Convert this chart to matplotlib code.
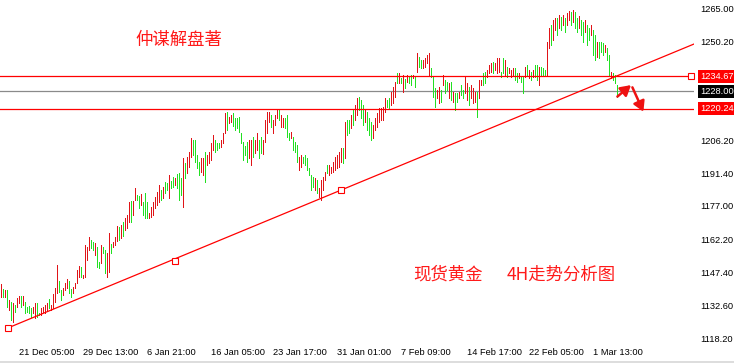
import matplotlib
matplotlib.use("Agg")
import matplotlib.pyplot as plt
from matplotlib.patches import Rectangle

# ---------------- data (4H bars, gold) ----------------
highs = [
 1142.2,1140.0,1139.6,1139.6,1135.1,1134.2,1133.8,1132.9,1136.0,1136.9,
 1136.9,1136.9,1134.2,1132.0,1132.5,1131.6,1132.0,1133.8,1133.8,1129.3,
 1131.6,1132.0,1132.9,1133.8,1135.6,1132.9,1137.8,1140.5,1150.7,1143.6,
 1139.6,1140.5,1142.7,1144.5,1143.6,1140.0,1140.9,1142.7,1148.5,1150.3,
 1149.8,1146.2,1159.6,1158.7,1163.1,1161.8,1160.9,1160.5,1158.7,1152.0,
 1159.6,1158.7,1157.4,1156.0,1164.9,1160.0,1160.9,1163.1,1168.0,1167.6,
 1168.5,1169.8,1171.6,1172.9,1178.7,1179.2,1179.2,1184.9,1181.8,1181.4,
 1182.3,1178.7,1182.7,1178.7,1173.8,1176.5,1178.7,1180.9,1183.2,1186.3,
 1184.1,1185.4,1187.6,1187.2,1190.7,1188.1,1189.8,1189.4,1191.2,1191.6,
 1189.4,1198.3,1196.1,1198.7,1200.9,1207.2,1206.3,1206.3,1199.6,1196.5,
 1198.3,1198.3,1200.9,1199.6,1200.9,1204.9,1208.5,1206.3,1204.9,1204.9,
 1206.3,1209.4,1218.3,1218.7,1216.5,1217.4,1218.3,1216.1,1216.1,1216.5,
 1209.4,1205.4,1203.6,1205.4,1206.3,1206.3,1207.6,1206.3,1209.4,1206.3,
 1207.6,1206.3,1215.2,1218.7,1218.7,1217.4,1215.2,1217.4,1220.1,1219.6,
 1217.4,1216.1,1216.1,1217.4,1209.4,1209.8,1207.6,1205.4,1204.0,1198.7,
 1199.6,1198.7,1199.6,1198.3,1193.8,1190.7,1189.8,1189.4,1188.5,1184.9,
 1188.5,1189.8,1192.1,1195.2,1195.2,1194.3,1196.5,1198.7,1199.6,1200.9,
 1202.7,1202.7,1214.3,1215.2,1215.2,1217.4,1219.6,1221.9,1225.0,1225.4,
 1224.1,1221.9,1219.6,1218.7,1216.1,1214.3,1212.9,1216.1,1218.3,1220.5,
 1220.5,1221.0,1225.0,1224.1,1225.0,1227.6,1229.9,1232.1,1236.1,1236.1,
 1233.9,1235.2,1233.4,1235.2,1234.8,1235.2,1235.2,1234.3,1245.0,1243.2,
 1241.9,1241.9,1242.8,1244.1,1245.0,1238.3,1234.3,1229.4,1228.5,1229.9,
 1228.5,1235.2,1233.0,1232.1,1231.6,1232.1,1227.6,1227.2,1227.2,1227.6,
 1230.8,1228.5,1234.3,1231.6,1229.9,1230.8,1229.4,1227.6,1227.6,1233.0,
 1233.0,1236.1,1236.5,1237.4,1239.7,1240.5,1241.0,1240.5,1242.8,1242.8,
 1236.5,1242.8,1241.9,1238.8,1238.3,1237.4,1238.3,1238.3,1236.1,1236.1,
 1234.3,1234.3,1238.8,1239.7,1237.4,1236.5,1237.4,1239.7,1239.7,1238.8,
 1238.8,1238.3,1237.4,1249.9,1256.1,1257.4,1259.7,1260.5,1260.5,1261.9,
 1261.0,1261.9,1260.5,1262.8,1263.7,1263.2,1264.1,1263.2,1260.5,1261.4,
 1259.7,1258.8,1259.7,1257.4,1256.1,1257.4,1255.2,1253.0,1249.9,1249.9,
 1249.9,1249.4,1248.5,1247.2,1244.1,1236.5,1236.1,1235.2,1230.8,
]
lows = [
 1136.5,1136.5,1136.5,1132.0,1130.7,1126.2,1125.3,1129.8,1132.0,1133.8,
 1132.0,1132.9,1129.3,1129.8,1129.3,1127.6,1129.3,1127.1,1127.6,1128.4,
 1128.4,1129.8,1129.3,1130.7,1131.6,1130.7,1131.6,1134.2,1138.2,1138.7,
 1135.1,1137.3,1139.6,1140.5,1138.2,1136.5,1138.2,1140.5,1142.7,1145.4,
 1145.4,1144.9,1145.4,1152.9,1157.4,1158.3,1157.4,1155.1,1149.8,1149.4,
 1151.6,1156.0,1147.1,1145.4,1147.6,1156.0,1158.7,1159.6,1161.4,1161.8,
 1162.7,1163.6,1166.3,1167.1,1169.8,1169.8,1172.9,1179.6,1179.6,1176.0,
 1177.4,1172.9,1171.6,1171.6,1171.6,1172.0,1172.9,1176.0,1177.4,1178.7,
 1179.6,1180.5,1182.7,1184.1,1180.5,1184.9,1185.4,1186.3,1184.9,1179.6,
 1181.8,1176.5,1189.4,1191.6,1194.3,1198.7,1199.6,1196.5,1193.8,1190.7,
 1192.0,1190.7,1187.6,1195.2,1196.1,1197.4,1201.8,1200.9,1201.8,1202.7,
 1203.2,1204.9,1209.4,1210.7,1213.8,1214.3,1212.5,1210.7,1211.6,1209.8,
 1204.9,1197.4,1199.6,1196.5,1198.3,1195.2,1198.7,1200.5,1201.8,1198.3,
 1200.5,1200.1,1205.4,1209.4,1214.3,1212.1,1209.4,1213.0,1216.1,1215.2,
 1212.1,1212.1,1211.6,1207.6,1206.3,1207.2,1201.8,1200.9,1196.5,1192.9,
 1194.3,1196.1,1195.2,1192.9,1190.7,1184.1,1185.4,1184.1,1182.7,1180.9,
 1179.6,1184.1,1188.5,1191.6,1190.7,1191.6,1192.0,1192.9,1193.8,1194.3,
 1196.5,1196.1,1198.3,1208.5,1209.4,1211.6,1213.0,1215.2,1217.4,1219.6,
 1216.1,1213.0,1214.3,1210.7,1208.5,1206.3,1207.2,1210.7,1212.1,1214.3,
 1215.2,1215.2,1218.7,1221.0,1220.5,1221.9,1222.7,1225.4,1231.6,1231.6,
 1231.6,1227.6,1229.4,1232.1,1231.6,1230.8,1233.9,1229.9,1236.5,1238.8,
 1238.3,1238.3,1238.8,1240.5,1235.2,1234.3,1225.4,1221.0,1225.0,1222.7,
 1223.2,1230.8,1227.2,1228.5,1225.0,1224.1,1223.2,1219.6,1223.2,1225.0,
 1226.3,1225.0,1227.2,1224.1,1221.9,1225.0,1222.7,1223.2,1216.5,1225.0,
 1230.8,1230.8,1231.6,1234.3,1236.1,1236.5,1236.1,1237.4,1236.1,1236.5,
 1234.3,1236.1,1235.2,1234.3,1236.1,1234.3,1235.2,1233.0,1232.1,1233.9,
 1232.1,1227.2,1234.3,1235.2,1233.9,1233.0,1234.3,1234.3,1233.0,1230.8,
 1235.2,1235.2,1235.2,1235.2,1247.2,1248.5,1250.8,1255.2,1253.0,1256.1,
 1255.2,1257.4,1254.3,1257.4,1259.7,1257.4,1258.8,1256.1,1254.3,1256.1,
 1253.0,1249.9,1254.3,1248.5,1250.8,1253.0,1244.1,1241.9,1243.2,1242.8,
 1245.4,1244.1,1245.4,1241.9,1235.2,1233.9,1233.0,1231.6,1225.4,
]
# r = up bar (red), g = down bar (green)
directions = (
 "rgrgrgrgrr" "grggggrrgg" "rrrrgrrrrg" "grrrggrrrr" "grrrrggrgg"
 "rggrrgrrrg" "rgrrrgrrgg" "rgggrrrrrr" "grggrggrgg" "grgrrrgggg"
 "rrgrrrrggg" "rrrgrrgggg" "ggggrrgrrg" "grrrrgrrrg" "rrgggrgggr"
 "rggggggrgr" "rrrgrrrrrr" "rgrggrgrrg" "ggrgggrrrr" "rrrggrrrgr"
 "grgrggrgrg" "grrrrgggrr" "grggrgrggr" "ggrrgrrrgr" "rggrrrgrrr"
 "ggrgrrrggr" "ggrgrgrggr" "gggrrgrrgr" "grgrrgrggr" "ggrggrggrg"
 "ggrggrggg"
)

date_pos = [9, 41, 73, 105, 136, 168, 200, 233, 264, 296]
date_labels = ["21 Dec 05:00", "29 Dec 13:00", "6 Jan 21:00", "16 Jan 05:00",
               "23 Jan 17:00", "31 Jan 01:00", "7 Feb 09:00", "14 Feb 17:00",
               "22 Feb 05:00", "1 Mar 13:00"]
price_ticks = [1265.00, 1250.20, 1206.20, 1191.40, 1177.00, 1162.20,
               1147.40, 1132.60, 1118.20]

resistance = 1234.67
bid_price = 1228.00
support = 1220.24
trend_x = [3.5, 87, 170]          # anchor bars of the trend line
trend_y = [1122.7, 1152.5, 1184.0]

title1 = "仲谋解盘著"
title2a = "现货黄金"
title2b = "4H走势分析图"

# ---------------- figure ----------------
W, H = 734, 363
fig = plt.figure(figsize=(W / 100, H / 100), dpi=100)
fig.patch.set_facecolor("white")
ax = fig.add_axes([0, 18 / H, 694 / W, 345 / H])
ax.set_facecolor("white")
for s in ax.spines.values():
    s.set_visible(False)

RED_BAR = "#e01418"
GREEN_BAR = "#22e022"
n = len(highs)
xs = list(range(n))
cols = [RED_BAR if d == "r" else GREEN_BAR for d in directions]
ax.vlines(xs, lows, highs, colors=cols, linewidth=0.68, antialiased=False, zorder=3)

xmax = 346.5
ax.set_xlim(-0.5, xmax)
ax.set_ylim(1115.10, 1268.56)

# horizontal levels
ax.axhline(resistance, color="#ff0000", lw=0.9, zorder=4)
ax.axhline(support, color="#ff0000", lw=0.9, zorder=4)
ax.axhline(bid_price, color="#8a8a8a", lw=0.9, zorder=2)
ax.plot([345], [resistance], marker="s", ms=3.8, mfc="white", mec="#ff0000",
        mew=0.8, zorder=5, clip_on=False)

# trend line (ray from first anchor through last anchor)
slope = (trend_y[2] - trend_y[0]) / (trend_x[2] - trend_x[0])
ax.plot([trend_x[0], xmax], [trend_y[0], trend_y[0] + slope * (xmax - trend_x[0])],
        color="#ff0000", lw=0.9, zorder=4)
ax.plot(trend_x, trend_y, ls="none", marker="s", ms=4.2, mfc="white",
        mec="#ff0000", mew=0.8, zorder=5, clip_on=False)

# arrows
ap = dict(arrowstyle="-|>,head_length=0.6,head_width=0.35", color="#ee1111",
          lw=1.8, shrinkA=0, shrinkB=0)
ax.annotate("", xy=(315, 1230.7), xytext=(308.2, 1225.6), arrowprops=ap, zorder=6)
ax.annotate("", xy=(321.2, 1218.9), xytext=(315.7, 1229.7), arrowprops=ap, zorder=6)

# axes ticks
tick_font = dict(family="Liberation Sans", size=6.7)
ax.yaxis.tick_right()
ax.set_yticks(price_ticks)
ax.set_yticklabels([f"{v:.2f}" for v in price_ticks], fontdict=tick_font)
ax.tick_params(axis="y", length=0, pad=4.3, colors="black")
ax.set_xticks(date_pos)
ax.set_xticklabels(date_labels, fontdict=tick_font, ha="left")
ax.tick_params(axis="x", length=0, pad=2.0, colors="black")

# highlighted price labels
for val, fc in [(resistance, "#ff0000"), (bid_price, "#000000"), (support, "#ff0000")]:
    ax.annotate(f"{val:.2f}", xy=(1, val), xycoords=ax.get_yaxis_transform(),
                xytext=(4.3, 0), textcoords="offset points", ha="left", va="center",
                color="white", fontfamily="Liberation Sans", fontsize=6.7,
                bbox=dict(boxstyle="square,pad=0.2", fc=fc, ec="none"),
                annotation_clip=False, zorder=10)

# Chinese texts
cjk = ["Noto Sans CJK SC", "DejaVu Sans"]
fig.text(178.5 / W, 1 - 39.5 / H, title1, family=cjk, fontsize=12.5,
         color="#ff1a1a", ha="center", va="center")
fig.text(413 / W, 1 - 274.5 / H, title2a, family=cjk, fontsize=12.5,
         color="#ff1a1a", ha="left", va="center")
fig.text(507 / W, 1 - 274.5 / H, title2b, family=cjk, fontsize=12.5,
         color="#ff1a1a", ha="left", va="center")

# light bottom border
fig.add_artist(Rectangle((0, 0), 1, 2 / H, transform=fig.transFigure,
                         fc="#dddddd", ec="none"))

fig.savefig("out.png", dpi=100, facecolor="white")
